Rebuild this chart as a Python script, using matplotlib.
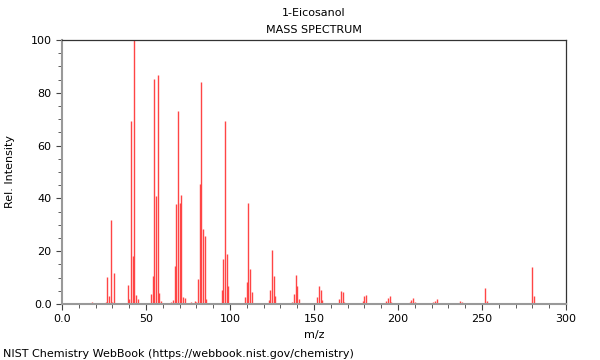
import matplotlib
matplotlib.use("Agg")
import matplotlib.pyplot as plt
from matplotlib.ticker import MultipleLocator

# m/z and relative intensity
mz = [15, 18, 26, 27, 28, 29, 30, 31,
      39, 40, 41, 42, 43, 44, 45,
      53, 54, 55, 56, 57, 58, 59,
      65, 66, 67, 68, 69, 70, 71, 72, 73,
      77, 79, 80, 81, 82, 83, 84, 85, 86, 87,
      93, 95, 96, 97, 98, 99, 100,
      109, 110, 111, 112, 113, 114,
      123, 124, 125, 126, 127,
      137, 138, 139, 140, 141,
      151, 152, 153, 154, 155,
      165, 166, 167, 168,
      179, 180, 181, 182,
      193, 194, 195, 196,
      207, 208, 209, 210,
      221, 222, 223,
      236, 237, 238,
      250, 251, 252, 253,
      278, 280, 281, 282]
intensity = [0.3, 0.8, 0.6, 10.1, 3.0, 31.7, 0.8, 11.7,
             7.1, 1.9, 69.5, 18.2, 100, 3.3, 1.9,
             3.7, 10.5, 85.2, 40.9, 86.6, 4.0, 1.0,
             0.6, 1.6, 14.4, 37.8, 73.1, 38.3, 41.2, 2.8, 2.1,
             0.6, 1.2, 0.6, 9.5, 45.6, 84.1, 28.4, 25.9, 1.9, 0.5,
             0.4, 5.3, 16.9, 69.4, 18.9, 6.8, 0.5,
             2.5, 8.2, 38.4, 13.3, 4.4, 0.5,
             1.4, 5.2, 20.4, 10.5, 2.9,
             0.8, 3.9, 11.0, 6.9, 2.0,
             0.4, 2.5, 6.9, 5.4, 1.4,
             2.0, 5.0, 4.4, 0.9,
             1.3, 3.2, 3.4, 0.5,
             1.3, 2.1, 3.2, 0.9,
             0.9, 1.6, 2.3, 0.6,
             0.6, 1.3, 1.9,
             0.5, 1.1, 0.7,
             0.3, 0.4, 6.1, 1.3,
             0.5, 14.1, 3.2, 0.4]

fig = plt.figure(figsize=(6, 3.6), dpi=100)
ax = fig.add_axes([0.1033, 0.1556, 0.84, 0.7333])

ax.vlines(mz, 0, intensity, color="#ff4545", linewidth=1.0)

ax.set_xlim(0, 300)
ax.set_ylim(0, 100)
ax.xaxis.set_major_locator(MultipleLocator(50))
ax.xaxis.set_minor_locator(MultipleLocator(10))
ax.yaxis.set_major_locator(MultipleLocator(20))
ax.yaxis.set_minor_locator(MultipleLocator(5))
ax.set_xticks([0, 50, 100, 150, 200, 250, 300])
ax.set_xticklabels(["0.0", "50", "100", "150", "200", "250", "300"])
ax.set_yticks([0, 20, 40, 60, 80, 100])
ax.set_yticklabels(["0.0", "20", "40", "60", "80", "100"])
ax.tick_params(which="both", labelsize=8, direction="out", color="#444444")
ax.tick_params(which="major", length=4)
ax.tick_params(which="minor", length=3)

for side in ("left", "bottom"):
    ax.spines[side].set_color("#999999")
    ax.spines[side].set_linewidth(1.5)
for side in ("top", "right"):
    ax.spines[side].set_color("#333333")
    ax.spines[side].set_linewidth(0.9)

ax.set_xlabel("m/z", fontsize=8, labelpad=4)
ax.set_ylabel("Rel. Intensity", fontsize=8, labelpad=11)

fig.text(0.523, 0.963, "1-Eicosanol", ha="center", va="center", fontsize=8)
fig.text(0.523, 0.916, "MASS SPECTRUM", ha="center", va="center", fontsize=8)
fig.text(0.005, 0.018, "NIST Chemistry WebBook (https://webbook.nist.gov/chemistry)",
         ha="left", va="center", fontsize=8)

fig.savefig("out.png", dpi=100)
